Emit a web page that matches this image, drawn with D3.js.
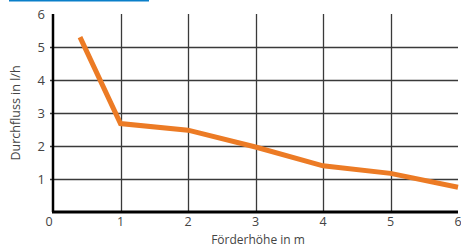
<!DOCTYPE html>
<html>
  <head>
    <meta charset="utf-8">
    <title>Durchfluss</title>
    <script src="https://d3js.org/d3.v7.min.js"></script>
    <style>
      body { margin: 0; background: #fff; }
      text { font-family: "Open Sans", sans-serif; fill: #444; }
    </style>
  </head>
  <body>
    <script>
      // data
      var hoehe = [0.4, 1, 2, 3, 4, 5, 6];                  // Förderhöhe in m
      var fluss = [5.3, 2.68, 2.48, 1.97, 1.4, 1.17, 0.75];  // Durchfluss in l/h
      var xTicks = [0, 1, 2, 3, 4, 5, 6];
      var yTicks = [1, 2, 3, 4, 5, 6];

      var svg = d3.select("body").append("svg")
        .attr("width", 461)
        .attr("height", 247);

      var x = d3.scaleLinear().domain([0, 6]).range([53, 458]);
      var y = d3.scaleLinear().domain([0, 6]).range([212, 14]);

      // blue rule at the top
      svg.append("line")
        .attr("x1", 9).attr("x2", 149)
        .attr("y1", 0.5).attr("y2", 0.5)
        .attr("stroke", "#0a7fc9")
        .attr("stroke-width", 2);

      // grid
      svg.selectAll(".hgrid").data(yTicks.filter(function(d){ return d < 6; }))
        .enter().append("line")
        .attr("class", "hgrid")
        .attr("x1", x(0) - 3).attr("x2", x(6))
        .attr("y1", function(d){ return Math.round(y(d)) + 0.5; })
        .attr("y2", function(d){ return Math.round(y(d)) + 0.5; })
        .attr("stroke", "#3a3a3a")
        .attr("stroke-width", 1.3);

      svg.selectAll(".vgrid").data(xTicks.filter(function(d){ return d > 0 && d < 6; }))
        .enter().append("line")
        .attr("class", "vgrid")
        .attr("x1", function(d){ return Math.round(x(d)) + 0.5; })
        .attr("x2", function(d){ return Math.round(x(d)) + 0.5; })
        .attr("y1", y(6)).attr("y2", y(0))
        .attr("stroke", "#3a3a3a")
        .attr("stroke-width", 1.3);

      // axes lines
      svg.append("line")
        .attr("x1", x(0)).attr("x2", x(0))
        .attr("y1", y(6)).attr("y2", y(0))
        .attr("stroke", "#000").attr("stroke-width", 2.5);
      svg.append("line")
        .attr("x1", x(0) - 1).attr("x2", x(6))
        .attr("y1", y(0)).attr("y2", y(0))
        .attr("stroke", "#000").attr("stroke-width", 3);

      // tick labels
      svg.selectAll(".ylab").data(yTicks)
        .enter().append("text")
        .attr("class", "ylab")
        .attr("x", 45)
        .attr("y", function(d){ return y(d) + 4.5; })
        .attr("text-anchor", "end")
        .style("font-size", "13px")
        .text(function(d){ return d; });

      svg.selectAll(".xlab").data(xTicks)
        .enter().append("text")
        .attr("class", "xlab")
        .attr("x", function(d){ return d === 0 ? x(d) - 4 : x(d); })
        .attr("y", 226)
        .attr("text-anchor", "middle")
        .style("font-size", "12.5px")
        .text(function(d){ return d; });

      // axis titles
      svg.append("text")
        .attr("x", 258).attr("y", 243.5)
        .attr("text-anchor", "middle")
        .style("font-size", "12px")
        .text("Förderhöhe in m");

      svg.append("text")
        .attr("transform", "translate(20,113) rotate(-90)")
        .attr("text-anchor", "middle")
        .style("font-size", "12.5px")
        .text("Durchfluss in l/h");

      // line
      var line = d3.line()
        .x(function(d, i){ return x(hoehe[i]); })
        .y(function(d){ return y(d); });

      svg.append("path")
        .datum(fluss)
        .attr("d", line)
        .attr("fill", "none")
        .attr("stroke", "#ec7b25")
        .attr("stroke-width", 5);
    </script>
  </body>
</html>
